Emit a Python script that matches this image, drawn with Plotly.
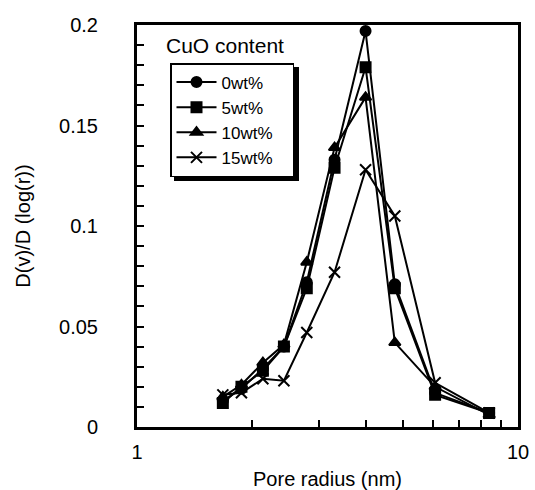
import plotly.graph_objects as go

# Data
pore_radius = [1.68, 1.88, 2.14, 2.43, 2.79, 3.3, 3.98, 4.75, 6.06, 8.4]
cuo_0 = [0.013, 0.019, 0.029, 0.040, 0.072, 0.133, 0.197, 0.071, 0.017, 0.007]
cuo_5 = [0.012, 0.020, 0.028, 0.040, 0.069, 0.129, 0.179, 0.069, 0.016, 0.007]
cuo_10 = [0.015, 0.021, 0.032, 0.041, 0.082, 0.139, 0.164, 0.042, 0.020, 0.006]
cuo_15 = [0.016, 0.017, 0.024, 0.023, 0.047, 0.077, 0.128, 0.105, 0.022, 0.007]
series_names = ["0wt%", "5wt%", "10wt%", "15wt%"]

x_tickvals = [1, 2, 3, 4, 5, 6, 7, 8, 9, 10]
x_ticktext = ["1", "", "", "", "", "", "", "", "", "10"]
y_tickvals = [i / 100 for i in range(0, 21)]
y_ticktext = ["0" if v == 0 else ("%g" % v if i % 5 == 0 else "") for i, v in enumerate(y_tickvals)]

FONT = "Liberation Sans, Arial, Helvetica, sans-serif"
PAD = "\u00a0" * 3

fig = go.Figure()
styles = [
    ("circle", 10, cuo_0),
    ("square", 10, cuo_5),
    ("triangle-up", 10, cuo_10),
    ("x-thin", 11, cuo_15),
]
for name, (sym, size, ys) in zip(series_names, styles):
    marker = dict(symbol=sym, size=size, color="black", line=dict(color="black", width=2))
    fig.add_trace(go.Scatter(
        x=pore_radius, y=ys, mode="lines+markers", name=name + PAD, legendgroup=name,
        line=dict(color="black", width=2), marker=marker,
    ))

# legend shadow
fig.add_shape(type="rect", xref="paper", yref="paper",
              x0=(174 - 137) / 381, x1=(299 - 137) / 381,
              y0=(427 - 181) / 402, y1=(427 - 67) / 402,
              fillcolor="black", line=dict(width=0), layer="above")

fig.add_annotation(text="CuO content", xref="paper", yref="paper",
                   x=(164 - 137) / 381, y=(427 - 45) / 402, xanchor="left", yanchor="middle",
                   showarrow=False, font=dict(size=21, color="black", family=FONT))

fig.update_layout(
    width=535, height=490,
    margin=dict(l=137, r=17, t=25, b=63, autoexpand=False),
    plot_bgcolor="white", paper_bgcolor="white",
    font=dict(family=FONT, color="black", size=20),
    showlegend=True,
    legend=dict(x=(170 - 137) / 381, y=(427 - 63) / 402, xanchor="left", yanchor="top",
                bgcolor="white", bordercolor="black", borderwidth=1.5,
                font=dict(size=17, family=FONT), tracegroupgap=0,
                itemwidth=40),
    xaxis=dict(type="log", range=[0, 1], tickvals=x_tickvals, ticktext=x_ticktext,
               ticks="inside", ticklen=7, tickwidth=2, tickcolor="black",
               showline=True, linecolor="black", linewidth=3, mirror=True,
               showgrid=False, zeroline=False, ticklabelstandoff=5, automargin=False,
               title=dict(text="Pore radius (nm)", font=dict(size=20), standoff=14),
               tickfont=dict(size=20)),
    yaxis=dict(range=[0, 0.2], tickvals=y_tickvals, ticktext=y_ticktext,
               ticks="inside", ticklen=7, tickwidth=2, tickcolor="black",
               showline=True, linecolor="black", linewidth=3, mirror=True,
               showgrid=False, zeroline=False, ticklabelstandoff=32, automargin=False,
               title=dict(text="D(v)/D (log(r))", font=dict(size=20), standoff=24),
               tickfont=dict(size=20)),
)

fig.write_html("out.html", config={"displayModeBar": False},
               post_script="document.body.style.margin='0';document.body.style.padding='0';")
